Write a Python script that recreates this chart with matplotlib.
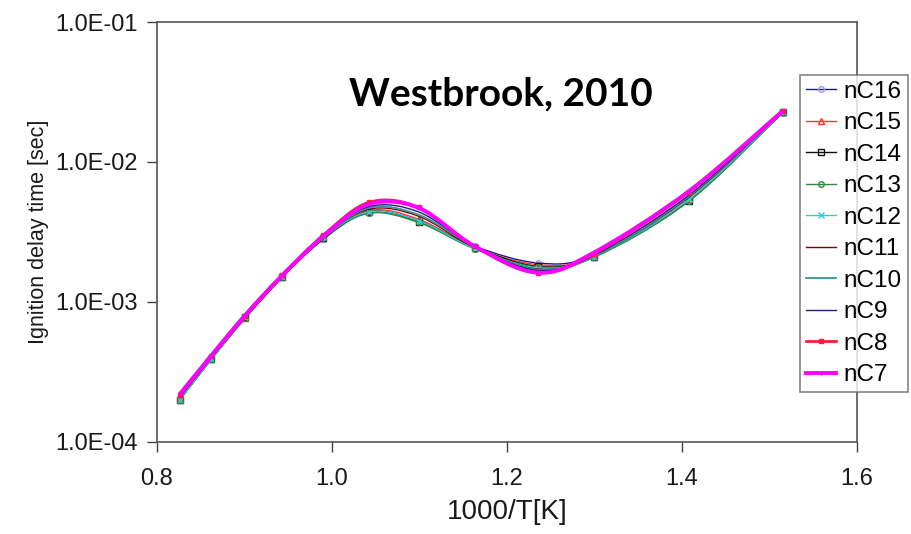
import numpy as np
import matplotlib
matplotlib.use("Agg")
import matplotlib.pyplot as plt
from matplotlib.path import Path
from matplotlib.patches import PathPatch
from matplotlib.lines import Line2D

# 1000/T for T = 1210 ... 660 K
inv_t = [0.826, 0.862, 0.901, 0.943, 0.990, 1.042, 1.099, 1.163, 1.235, 1.299, 1.408, 1.515]

names = ["nC16", "nC15", "nC14", "nC13", "nC12", "nC11", "nC10", "nC9", "nC8", "nC7"]

nc16 = [2.00e-4, 3.9e-4, 7.7e-4, 1.50e-3, 2.80e-3, 4.40e-3, 3.80e-3, 2.50e-3, 1.90e-3, 2.15e-3, 5.3e-3, 2.25e-2]
nc15 = [2.00e-4, 3.9e-4, 7.7e-4, 1.50e-3, 2.85e-3, 4.50e-3, 3.90e-3, 2.45e-3, 1.85e-3, 2.10e-3, 5.4e-3, 2.28e-2]
nc14 = [2.00e-4, 3.9e-4, 7.8e-4, 1.50e-3, 2.85e-3, 4.40e-3, 3.75e-3, 2.45e-3, 1.80e-3, 2.10e-3, 5.3e-3, 2.28e-2]
nc13 = [2.00e-4, 3.9e-4, 7.7e-4, 1.50e-3, 2.85e-3, 4.30e-3, 3.70e-3, 2.40e-3, 1.78e-3, 2.08e-3, 5.25e-3, 2.27e-2]
nc12 = [2.00e-4, 3.9e-4, 7.8e-4, 1.50e-3, 2.90e-3, 4.40e-3, 3.80e-3, 2.42e-3, 1.75e-3, 2.10e-3, 5.4e-3, 2.28e-2]
nc11 = [2.05e-4, 4.0e-4, 7.8e-4, 1.50e-3, 2.90e-3, 4.60e-3, 4.10e-3, 2.45e-3, 1.72e-3, 2.10e-3, 5.6e-3, 2.30e-2]
nc10 = [2.05e-4, 4.0e-4, 7.9e-4, 1.52e-3, 2.90e-3, 4.70e-3, 4.20e-3, 2.50e-3, 1.70e-3, 2.10e-3, 5.7e-3, 2.30e-2]
nc9 = [2.10e-4, 4.0e-4, 7.9e-4, 1.52e-3, 2.95e-3, 4.80e-3, 4.40e-3, 2.50e-3, 1.68e-3, 2.15e-3, 5.8e-3, 2.30e-2]
nc8 = [2.15e-4, 4.1e-4, 8.0e-4, 1.55e-3, 3.00e-3, 5.15e-3, 4.75e-3, 2.50e-3, 1.62e-3, 2.20e-3, 6.1e-3, 2.32e-2]
nc7 = [2.20e-4, 4.15e-4, 8.1e-4, 1.55e-3, 2.95e-3, 5.00e-3, 4.70e-3, 2.50e-3, 1.62e-3, 2.25e-3, 6.2e-3, 2.32e-2]

series = [nc16, nc15, nc14, nc13, nc12, nc11, nc10, nc9, nc8, nc7]

# line colour, marker, marker colour, linewidth
styles = [
    ("#1a1a8c", "o", "#9a9aff", 1.0),
    ("#ff3333", "^", "#ff3333", 1.0),
    ("#111111", "s", "#111111", 1.0),
    ("#2e8b3e", "o", "#2e8b3e", 1.0),
    ("#33cccc", "x", "#33cccc", 1.0),
    ("#800000", None, None, 1.0),
    ("#339999", None, None, 1.3),
    ("#1f1f80", None, None, 1.0),
    ("#ff1a40", "s", "#ff1a40", 2.0),
    ("#ff00ff", "+", "#ff00ff", 2.8),
]


def smooth_path(x, y):
    # Excel-like smoothed line: Catmull-Rom segments as cubic Beziers (in x / log y)
    px = np.asarray(x, float)
    py = np.log10(np.asarray(y, float))
    ex = np.concatenate([[px[0]], px, [px[-1]]])
    ey = np.concatenate([[py[0]], py, [py[-1]]])
    verts = [(px[0], 10 ** py[0])]
    codes = [Path.MOVETO]
    for i in range(1, len(ex) - 2):
        c1x = ex[i] + (ex[i + 1] - ex[i - 1]) / 6
        c1y = ey[i] + (ey[i + 1] - ey[i - 1]) / 6
        c2x = ex[i + 1] - (ex[i + 2] - ex[i]) / 6
        c2y = ey[i + 1] - (ey[i + 2] - ey[i]) / 6
        verts += [(c1x, 10 ** c1y), (c2x, 10 ** c2y), (ex[i + 1], 10 ** ey[i + 1])]
        codes += [Path.CURVE4] * 3
    return Path(verts, codes)


plt.rcParams["font.family"] = ["Liberation Sans", "DejaVu Sans"]

fig = plt.figure(figsize=(9.11, 5.34), dpi=100)
ax = fig.add_axes([0.1723, 0.1723, 0.7684, 0.7865])
ax.set_yscale("log")

handles = []
for k, (name, vals) in enumerate(zip(names, series)):
    col, mk, mcol, lw = styles[k]
    ax.add_patch(PathPatch(smooth_path(inv_t, vals), fill=False, edgecolor=col,
                           lw=lw, zorder=2 + k * 0.1))
    if mk is not None:
        face = "none" if k < 8 else mcol
        ax.plot(inv_t, vals, ls="none", marker=mk, ms=4 if k < 8 else 3,
                mec=mcol, mfc=face, mew=1, zorder=2.05 + k * 0.1)
    handles.append(Line2D([], [], color=col, lw=lw, marker=mk if mk else None,
                          ms=4 if k < 8 else 3, mec=mcol, mew=1,
                          mfc=("none" if k < 8 else mcol) if mk else None,
                          label=name))

ax.set_xlim(0.8, 1.6)
ax.set_ylim(1e-4, 1e-1)
ax.set_xticks([0.8, 1.0, 1.2, 1.4, 1.6])
ax.set_xticklabels(["0.8", "1.0", "1.2", "1.4", "1.6"])
ax.set_yticks([1e-4, 1e-3, 1e-2, 1e-1])
ax.set_yticklabels(["1.0E-04", "1.0E-03", "1.0E-02", "1.0E-01"])
ax.yaxis.set_minor_locator(matplotlib.ticker.NullLocator())
ax.tick_params(axis="both", labelsize=17, length=7, width=1, color="#444444",
               direction="out", labelcolor="#1a1a1a")
ax.tick_params(axis="x", pad=12)
ax.tick_params(axis="y", pad=7)
for sp in ax.spines.values():
    sp.set_color("#555555")
    sp.set_linewidth(1.2)

ax.set_xlabel("1000/T[K]", fontsize=20, labelpad=6, color="#1a1a1a")
ax.set_ylabel("Ignition delay time [sec]", fontsize=15.5, labelpad=4, color="#1a1a1a")

ax.text(0.491, 0.802, "Westbrook, 2010", transform=ax.transAxes, ha="center",
        va="baseline", fontsize=28, fontweight="bold", family=["Lato", "DejaVu Sans"])

leg = fig.legend(handles=handles, loc="upper left", bbox_to_anchor=(0.878, 0.86),
                 fontsize=17.5, frameon=True, fancybox=False, edgecolor="#666666",
                 handlelength=1.25, handletextpad=0.3, labelspacing=0.39,
                 borderpad=0.25, borderaxespad=0)
leg.get_frame().set_linewidth(1.2)

fig.savefig("out.png", dpi=100)
